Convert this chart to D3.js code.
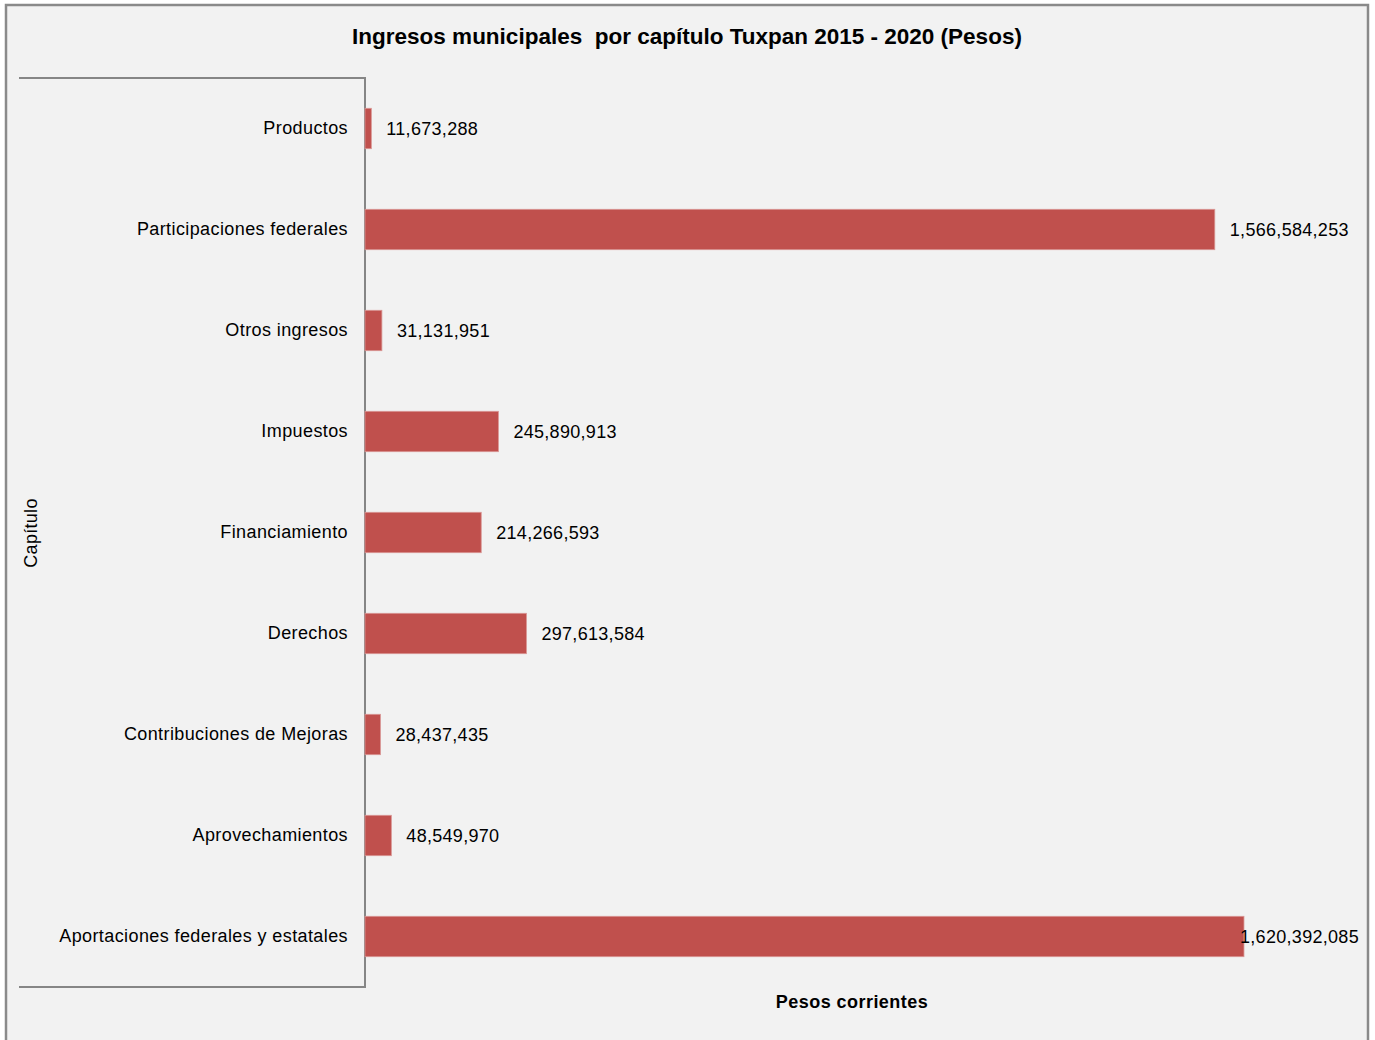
<!DOCTYPE html>
<html><head><meta charset="utf-8">
<script src="https://cdn.jsdelivr.net/npm/d3@7"></script>
<style>body{margin:0;background:#fff}svg{display:block}</style>
</head><body>
<script>
const categories = ["Productos","Participaciones federales","Otros ingresos","Impuestos","Financiamiento","Derechos","Contribuciones de Mejoras","Aprovechamientos","Aportaciones federales y estatales"];
const values = [11673288,1566584253,31131951,245890913,214266593,297613584,28437435,48549970,1620392085];
const title = "Ingresos municipales\u00A0 por capítulo Tuxpan 2015 - 2020 (Pesos)";
const xTitle = "Pesos corrientes";
const yTitle = "Capítulo";

const W = 1375, H = 1040;
const svg = d3.select("body").append("svg").attr("width", W).attr("height", H);
const font = "Liberation Sans, Arial, sans-serif";

svg.append("rect").attr("x",6).attr("y",5).attr("width",1362).attr("height",1045)
  .attr("fill","#F2F2F2").attr("stroke","#8a8a8a").attr("stroke-width",2.5);

const x0 = 365, plotTop = 78, plotBottom = 987;
const x = d3.scaleLinear().domain([0, 1.8e9]).range([x0, 1341.4]);
const y = d3.scaleBand().domain(categories).range([plotTop, plotBottom]).paddingInner(0.6).paddingOuter(0.3);

svg.append("text").attr("x",687).attr("y",44).attr("text-anchor","middle")
  .attr("font-family",font).attr("font-weight","bold").attr("font-size",22.5).attr("fill","#000").text(title);

svg.append("path").attr("d",`M19,${plotTop}H${x0}V${plotBottom}H19`).attr("fill","none").attr("stroke","#868686").attr("stroke-width",2);

const yAxis = d3.axisLeft(y).tickSize(0).tickPadding(17);
const ga = svg.append("g").attr("transform",`translate(${x0},0)`).call(yAxis);
ga.select(".domain").remove();
ga.selectAll("text").attr("font-family",font).attr("font-size",18).attr("letter-spacing",0.4).attr("fill","#000");

svg.append("g").selectAll("rect").data(values).join("rect")
  .attr("x", x(0)).attr("y",(d,i)=>y(categories[i]))
  .attr("width", d=>x(d)-x(0)).attr("height", y.bandwidth())
  .attr("fill","#C0504D").attr("stroke","#D99694").attr("stroke-width",0.8);

const fmt = d3.format(",");
const lbl = svg.append("g").selectAll("text").data(values).join("text")
  .attr("y",(d,i)=>y(categories[i])+y.bandwidth()/2).attr("dy","0.35em")
  .attr("font-family",font).attr("font-size",18).attr("letter-spacing",0.3).attr("fill","#000")
  .text(d=>fmt(d));
lbl.each(function(d){
  const t = d3.select(this);
  const w = this.getComputedTextLength();
  let xp = x(d)+15;
  if (xp + w > 1359) xp = 1359 - w;
  t.attr("x", xp);
});

svg.append("text").attr("x",852).attr("y",1008).attr("text-anchor","middle")
  .attr("font-family",font).attr("font-weight","bold").attr("font-size",18).attr("letter-spacing",0.45).attr("fill","#000").text(xTitle);

svg.append("text").attr("transform","translate(37,533) rotate(-90)").attr("text-anchor","middle")
  .attr("font-family",font).attr("font-size",18).attr("letter-spacing",0.3).attr("fill","#000").text(yTitle);
</script>
</body></html>
